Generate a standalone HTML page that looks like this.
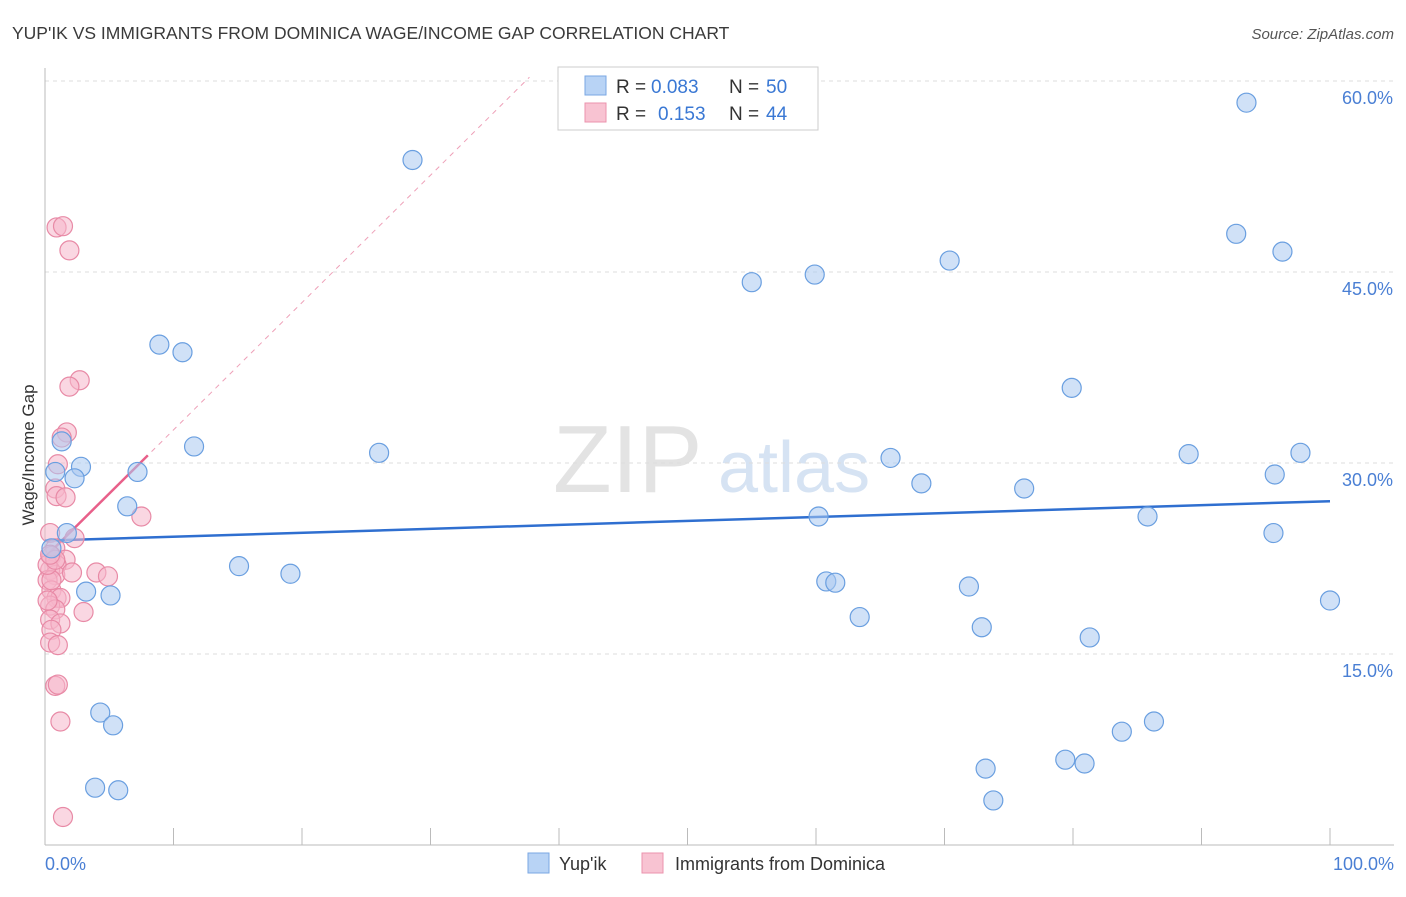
<!DOCTYPE html>
<html><head><meta charset="utf-8"><style>
body{margin:0;background:#fff;font-family:"Liberation Sans",sans-serif;}
svg text{font-family:"Liberation Sans",sans-serif;}
</style></head><body>
<svg id="chart" width="1406" height="892" viewBox="0 0 1406 892" xmlns="http://www.w3.org/2000/svg">
<text x="12" y="39" font-size="17.5" fill="#3a3a3a">YUP'IK VS IMMIGRANTS FROM DOMINICA WAGE/INCOME GAP CORRELATION CHART</text>
<text x="1394" y="39" font-size="15" fill="#555" text-anchor="end" font-style="italic">Source: ZipAtlas.com</text>
<g>
<text x="553" y="492" font-size="96" font-family="Liberation Serif,serif" fill="#e3e3e3">ZIP</text>
<text x="718" y="492" font-size="72" fill="#d6e3f3">atlas</text>
</g>
<g id="grid"></g>
<g id="axes"></g>
<g id="lines"></g>
<g id="pts"></g>
<text transform="translate(34,455) rotate(-90)" font-size="17" fill="#333" text-anchor="middle">Wage/Income Gap</text>
<text x="45" y="870" font-size="18" fill="#4a7fd4">0.0%</text>
<text x="1394" y="870" font-size="18" fill="#4a7fd4" text-anchor="end">100.0%</text>
<g>
<rect x="558" y="67" width="260" height="63" fill="#fff" stroke="#ccc"/>
<rect x="585" y="76" width="21" height="19" fill="#b8d3f5" stroke="#7aa7e3"/>
<text y="93" font-size="19" fill="#333"><tspan x="616">R =</tspan><tspan x="651" fill="#3a78d4">0.083</tspan><tspan x="729">N =</tspan><tspan x="766" fill="#3a78d4">50</tspan></text>
<rect x="585" y="103" width="21" height="19" fill="#f8c3d2" stroke="#eb93ad"/>
<text y="120" font-size="19" fill="#333"><tspan x="616">R =</tspan><tspan x="658" fill="#3a78d4">0.153</tspan><tspan x="729">N =</tspan><tspan x="766" fill="#3a78d4">44</tspan></text>
</g>
<g>
<rect x="528" y="853" width="21" height="20" fill="#b8d3f5" stroke="#7aa7e3"/>
<text x="559" y="870" font-size="18" fill="#333">Yup'ik</text>
<rect x="642" y="853" width="21" height="20" fill="#f8c3d2" stroke="#eb93ad"/>
<text x="675" y="870" font-size="18" fill="#333">Immigrants from Dominica</text>
</g>
</svg>
<script>
const yTicks=[15,30,45,60];
const yTickLabels=["15.0%","30.0%","45.0%","60.0%"];
const blueX=[28.6,93.5,92.7,96.3,70.4,59.9,55.0,8.9,10.7,79.9,1.3,2.8,0.8,2.3,11.6,26.0,7.2,65.8,89.0,97.7,95.7,68.2,76.2,6.4,60.2,85.8,1.7,95.6,15.1,19.1,60.8,61.5,3.2,5.1,71.9,100,63.4,72.9,81.3,4.3,5.3,86.3,83.8,79.4,80.9,73.2,3.9,5.7,73.8,0.5];
const blueY=[53.8,58.3,48.0,46.6,45.9,44.8,44.2,39.3,38.7,35.9,31.7,29.7,29.3,28.8,31.3,30.8,29.3,30.4,30.7,30.8,29.1,28.4,28.0,26.6,25.8,25.8,24.5,24.5,21.9,21.3,20.7,20.6,19.9,19.6,20.3,19.2,17.9,17.1,16.3,10.4,9.4,9.7,8.9,6.7,6.4,6.0,4.5,4.3,3.5,23.3];
const pinkX=[0.9,1.4,1.9,2.7,1.9,1.7,1.3,1.0,0.8,0.9,1.6,7.5,2.3,0.4,0.8,0.5,1.6,0.9,0.4,0.8,2.1,4.0,4.9,0.2,0.5,0.9,1.2,0.4,0.8,3.0,0.4,1.2,0.5,0.4,1.0,0.8,1.0,1.2,1.4,0.5,0.2,0.8,0.4,0.2];
const pinkY=[48.5,48.6,46.7,36.5,36.0,32.4,32.0,29.9,28.0,27.4,27.3,25.8,24.1,24.5,23.3,22.7,22.4,22.0,21.6,21.2,21.4,21.4,21.1,20.8,20.0,19.4,19.4,18.8,18.5,18.3,17.7,17.4,16.9,15.9,15.7,12.5,12.6,9.7,2.2,20.8,22.0,22.4,22.8,19.2];
const blueFit=[23.9,27.0];   // value at x=0 and x=100
const pinkFit=[22.6,1.0];    // intercept, slope per % x
const NS="http://www.w3.org/2000/svg";
const X=v=>45+v*12.85, Y=v=>845-v*12.733;
function mk(tag,attrs,parent){const e=document.createElementNS(NS,tag);for(const k in attrs)e.setAttribute(k,attrs[k]);document.getElementById(parent).appendChild(e);return e;}
yTicks.forEach((t,i)=>{
  const g=mk('line',{x1:45,x2:1394,y1:Y(t),y2:Y(t),stroke:'#ddd','stroke-dasharray':'4,4'},'grid');
  
  
  const tx=mk('text',{x:1393,y:Y(t)+23,'font-size':18,fill:'#4a7fd4','text-anchor':'end'},'grid');
  tx.textContent=yTickLabels[i];
  
  
});
const ya=mk('line',{x1:45,x2:45,y1:68,y2:845,stroke:'#bbb'},'axes');


const xa=mk('line',{x1:45,x2:1394,y1:845,y2:845,stroke:'#bbb'},'axes');


for(let i=0;i<=10;i++){const t=mk('line',{x1:X(i*10),x2:X(i*10),y1:828,y2:845,stroke:'#bbb'},'axes');
  
  }
function dot(x,y,fill,stroke,name){const c=mk('circle',{cx:X(x),cy:Y(y),r:9.5,fill:fill,'fill-opacity':0.55,stroke:stroke,'stroke-width':1.2},'pts');
  
  }
pinkX.forEach((x,i)=>dot(x,pinkY[i],'#f6b7ca','#e88aa6','dominica-point'));
blueX.forEach((x,i)=>dot(x,blueY[i],'#aac9f1','#6a9fe0','yupik-point'));
const extEnd=37.7;
const pd=mk('line',{x1:X(0),y1:Y(pinkFit[0]),x2:X(extEnd),y2:Y(pinkFit[0]+pinkFit[1]*extEnd),stroke:'#eea0b8','stroke-dasharray':'5,5','stroke-width':1},'lines');


const pl=mk('line',{x1:X(0),y1:Y(pinkFit[0]),x2:X(8),y2:Y(pinkFit[0]+pinkFit[1]*8),stroke:'#e8608a','stroke-width':2.5},'lines');


const bl=mk('line',{x1:X(0),y1:Y(blueFit[0]),x2:X(100),y2:Y(blueFit[1]),stroke:'#2f6fd0','stroke-width':2.5},'lines');


</script>
</body></html>
